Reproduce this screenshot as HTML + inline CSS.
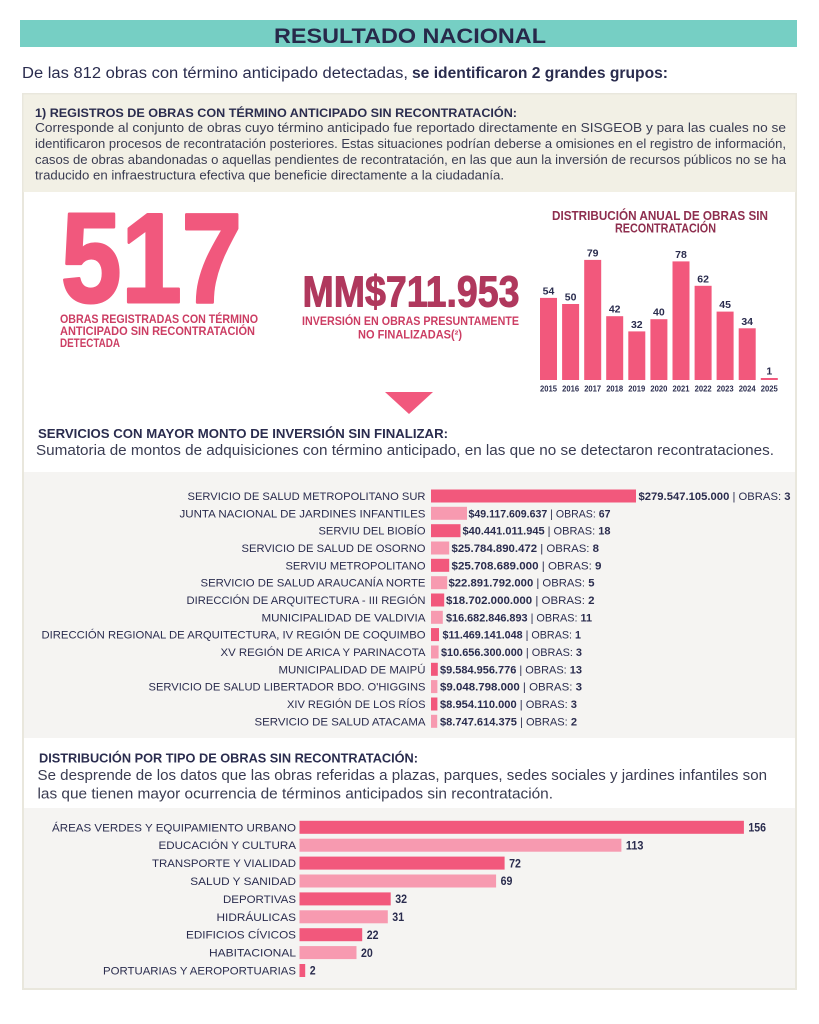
<!DOCTYPE html>
<html>
<head>
<meta charset="utf-8">
<style>
html,body{margin:0;padding:0;background:#ffffff;}
svg{display:block;}
text{font-family:"Liberation Sans",Arial,sans-serif;}
.b{font-weight:bold;}
</style>
</head>
<body>
<svg width="819" height="1024" viewBox="0 0 819 1024" xmlns="http://www.w3.org/2000/svg">
<rect x="0" y="0" width="819" height="1024" fill="#ffffff"/>

<!-- Header -->
<rect x="20" y="20" width="777" height="27" fill="#76cfc4"/>
<text x="274" y="43" class="b" font-size="21" fill="#27294a" textLength="272" lengthAdjust="spacingAndGlyphs">RESULTADO NACIONAL</text>

<text x="22" y="78" font-size="15.5" fill="#2a2c4e" textLength="386" lengthAdjust="spacingAndGlyphs">De las 812 obras con término anticipado detectadas,</text>
<text x="412" y="78" class="b" font-size="15.5" fill="#2a2c4e" textLength="256" lengthAdjust="spacingAndGlyphs">se identificaron 2 grandes grupos:</text>

<!-- Outer box -->
<rect x="22" y="93" width="775" height="897" fill="#e9e7dd"/>
<rect x="23.5" y="94.5" width="772" height="98" fill="#f2f0e5"/>
<rect x="24" y="192" width="771" height="280" fill="#ffffff"/>
<rect x="24" y="472" width="771" height="266" fill="#f5f4f2"/>
<rect x="24" y="738" width="771" height="70" fill="#ffffff"/>
<rect x="24" y="808" width="771" height="180" fill="#f5f4f2"/>

<!-- Box text -->
<text x="35" y="117" class="b" font-size="12" fill="#2a2c4e" textLength="482" lengthAdjust="spacingAndGlyphs">1) REGISTROS DE OBRAS CON TÉRMINO ANTICIPADO SIN RECONTRATACIÓN:</text>
<text x="35" y="132" font-size="12.5" fill="#3a3c52" textLength="751" lengthAdjust="spacingAndGlyphs">Corresponde al conjunto de obras cuyo término anticipado fue reportado directamente en SISGEOB y para las cuales no se</text>
<text x="35" y="148" font-size="12.5" fill="#3a3c52" textLength="751" lengthAdjust="spacingAndGlyphs">identificaron procesos de recontratación posteriores. Estas situaciones podrían deberse a omisiones en el registro de información,</text>
<text x="35" y="164" font-size="12.5" fill="#3a3c52" textLength="751" lengthAdjust="spacingAndGlyphs">casos de obras abandonadas o aquellas pendientes de recontratación, en las que aun la inversión de recursos públicos no se ha</text>
<text x="35" y="179.5" font-size="12.5" fill="#3a3c52" textLength="469" lengthAdjust="spacingAndGlyphs">traducido en infraestructura efectiva que beneficie directamente a la ciudadanía.</text>

<!-- 517 -->
<text x="61" y="302" class="b" font-size="127" fill="#f1587d" stroke="#f1587d" stroke-width="3" stroke-linejoin="round" textLength="181" lengthAdjust="spacingAndGlyphs">517</text>
<text x="60" y="323" class="b" font-size="11.5" fill="#cc3d63" textLength="198" lengthAdjust="spacingAndGlyphs">OBRAS REGISTRADAS CON TÉRMINO</text>
<text x="60" y="335" class="b" font-size="11.5" fill="#cc3d63" textLength="195" lengthAdjust="spacingAndGlyphs">ANTICIPADO SIN RECONTRATACIÓN</text>
<text x="60" y="347" class="b" font-size="11.5" fill="#cc3d63" textLength="60" lengthAdjust="spacingAndGlyphs">DETECTADA</text>

<!-- MM$ -->
<text x="302.5" y="306.5" class="b" font-size="43.5" fill="#b0385d" stroke="#b0385d" stroke-width="1" stroke-linejoin="round" textLength="217" lengthAdjust="spacingAndGlyphs">MM$711.953</text>
<text x="302" y="325" class="b" font-size="11.5" fill="#cc3d63" textLength="217" lengthAdjust="spacingAndGlyphs">INVERSIÓN EN OBRAS PRESUNTAMENTE</text>
<text x="358" y="338.5" class="b" font-size="11.5" fill="#cc3d63" textLength="104" lengthAdjust="spacingAndGlyphs">NO FINALIZADAS(²)</text>

<!-- triangle -->
<polygon points="385,392 433,392 409,414" fill="#f1587d"/>

<!-- Annual chart -->
<text x="552" y="220" class="b" font-size="13" fill="#8e2e4e" textLength="216" lengthAdjust="spacingAndGlyphs">DISTRIBUCIÓN ANUAL DE OBRAS SIN</text>
<text x="615" y="232.5" class="b" font-size="13" fill="#8e2e4e" textLength="101" lengthAdjust="spacingAndGlyphs">RECONTRATACIÓN</text>

<g fill="#f2587c">
<rect x="540" y="297.9" width="17" height="82.1"/>
<rect x="562.1" y="304" width="17" height="76"/>
<rect x="584.2" y="259.9" width="17" height="120.1"/>
<rect x="606.2" y="316.2" width="17" height="63.8"/>
<rect x="628.3" y="331.4" width="17" height="48.6"/>
<rect x="650.4" y="319.2" width="17" height="60.8"/>
<rect x="672.5" y="261.4" width="17" height="118.6"/>
<rect x="694.6" y="285.8" width="17" height="94.2"/>
<rect x="716.6" y="311.6" width="17" height="68.4"/>
<rect x="738.7" y="328.3" width="17" height="51.7"/>
<rect x="760.8" y="378" width="17" height="2"/>
</g>
<g class="b" font-size="10.5" fill="#2a2c4e" text-anchor="middle" font-weight="bold">
<text x="548.5" y="294.4">54</text>
<text x="570.6" y="300.5">50</text>
<text x="592.7" y="256.4">79</text>
<text x="614.7" y="312.7">42</text>
<text x="636.8" y="327.9">32</text>
<text x="658.9" y="315.7">40</text>
<text x="681" y="257.9">78</text>
<text x="703.1" y="282.3">62</text>
<text x="725.1" y="308.1">45</text>
<text x="747.2" y="324.8">34</text>
<text x="769.3" y="374.5">1</text>
</g>
<g font-size="8.5" fill="#2a2c4e" font-weight="bold">
<text x="540" y="391.5" textLength="17" lengthAdjust="spacingAndGlyphs">2015</text>
<text x="562.1" y="391.5" textLength="17" lengthAdjust="spacingAndGlyphs">2016</text>
<text x="584.2" y="391.5" textLength="17" lengthAdjust="spacingAndGlyphs">2017</text>
<text x="606.2" y="391.5" textLength="17" lengthAdjust="spacingAndGlyphs">2018</text>
<text x="628.3" y="391.5" textLength="17" lengthAdjust="spacingAndGlyphs">2019</text>
<text x="650.4" y="391.5" textLength="17" lengthAdjust="spacingAndGlyphs">2020</text>
<text x="672.5" y="391.5" textLength="17" lengthAdjust="spacingAndGlyphs">2021</text>
<text x="694.6" y="391.5" textLength="17" lengthAdjust="spacingAndGlyphs">2022</text>
<text x="716.6" y="391.5" textLength="17" lengthAdjust="spacingAndGlyphs">2023</text>
<text x="738.7" y="391.5" textLength="17" lengthAdjust="spacingAndGlyphs">2024</text>
<text x="760.8" y="391.5" textLength="17" lengthAdjust="spacingAndGlyphs">2025</text>
</g>

<!-- Services section -->
<text x="38" y="438" class="b" font-size="13" fill="#2a2c4e" textLength="410" lengthAdjust="spacingAndGlyphs">SERVICIOS CON MAYOR MONTO DE INVERSIÓN SIN FINALIZAR:</text>
<text x="36" y="455" font-size="14.5" fill="#3a3c52" textLength="738" lengthAdjust="spacingAndGlyphs">Sumatoria de montos de adquisiciones con término anticipado, en las que no se detectaron recontrataciones.</text>

<g font-size="11" fill="#2a2c4e">
<text x="187.5" y="500" textLength="238" lengthAdjust="spacingAndGlyphs">SERVICIO DE SALUD METROPOLITANO SUR</text>
<text x="179.5" y="517.3" textLength="246" lengthAdjust="spacingAndGlyphs">JUNTA NACIONAL DE JARDINES INFANTILES</text>
<text x="318.5" y="534.7" textLength="107" lengthAdjust="spacingAndGlyphs">SERVIU DEL BIOBÍO</text>
<text x="241.5" y="552" textLength="184" lengthAdjust="spacingAndGlyphs">SERVICIO DE SALUD DE OSORNO</text>
<text x="285.5" y="569.3" textLength="140" lengthAdjust="spacingAndGlyphs">SERVIU METROPOLITANO</text>
<text x="200.5" y="586.7" textLength="225" lengthAdjust="spacingAndGlyphs">SERVICIO DE SALUD ARAUCANÍA NORTE</text>
<text x="186.5" y="604" textLength="239" lengthAdjust="spacingAndGlyphs">DIRECCIÓN DE ARQUITECTURA - III REGIÓN</text>
<text x="261.5" y="621.3" textLength="164" lengthAdjust="spacingAndGlyphs">MUNICIPALIDAD DE VALDIVIA</text>
<text x="41.5" y="638.6" textLength="384" lengthAdjust="spacingAndGlyphs">DIRECCIÓN REGIONAL DE ARQUITECTURA, IV REGIÓN DE COQUIMBO</text>
<text x="220.5" y="656" textLength="205" lengthAdjust="spacingAndGlyphs">XV REGIÓN DE ARICA Y PARINACOTA</text>
<text x="278.5" y="673.3" textLength="147" lengthAdjust="spacingAndGlyphs">MUNICIPALIDAD DE MAIPÚ</text>
<text x="148.5" y="690.6" textLength="277" lengthAdjust="spacingAndGlyphs">SERVICIO DE SALUD LIBERTADOR BDO. O'HIGGINS</text>
<text x="287" y="708" textLength="138.5" lengthAdjust="spacingAndGlyphs">XIV REGIÓN DE LOS RÍOS</text>
<text x="254.5" y="725.3" textLength="171" lengthAdjust="spacingAndGlyphs">SERVICIO DE SALUD ATACAMA</text>
</g>

<g>
<rect x="431" y="489.5" width="205" height="13" fill="#f2587c"/>
<rect x="431" y="506.8" width="36" height="13" fill="#f79ab0"/>
<rect x="431" y="524.2" width="29.5" height="13" fill="#f2587c"/>
<rect x="431" y="541.5" width="18.2" height="13" fill="#f79ab0"/>
<rect x="431" y="558.8" width="18.2" height="13" fill="#f2587c"/>
<rect x="431" y="576.2" width="16.2" height="13" fill="#f79ab0"/>
<rect x="431" y="593.5" width="13.2" height="13" fill="#f2587c"/>
<rect x="431" y="610.8" width="11.8" height="13" fill="#f79ab0"/>
<rect x="431" y="628.1" width="8" height="13" fill="#f2587c"/>
<rect x="431" y="645.5" width="7.6" height="13" fill="#f79ab0"/>
<rect x="431" y="662.8" width="6.8" height="13" fill="#f2587c"/>
<rect x="431" y="680.1" width="6.4" height="13" fill="#f79ab0"/>
<rect x="431" y="697.5" width="6.4" height="13" fill="#f2587c"/>
<rect x="431" y="714.8" width="6.2" height="13" fill="#f79ab0"/>
</g>

<g font-size="11" fill="#2a2c4e">
<text x="638.5" y="500" textLength="152" lengthAdjust="spacingAndGlyphs"><tspan font-weight="bold">$279.547.105.000</tspan> | OBRAS: <tspan font-weight="bold">3</tspan></text>
<text x="468.5" y="517.3" textLength="142" lengthAdjust="spacingAndGlyphs"><tspan font-weight="bold">$49.117.609.637</tspan> | OBRAS: <tspan font-weight="bold">67</tspan></text>
<text x="462.5" y="534.7" textLength="148" lengthAdjust="spacingAndGlyphs"><tspan font-weight="bold">$40.441.011.945</tspan> | OBRAS: <tspan font-weight="bold">18</tspan></text>
<text x="451.5" y="552" textLength="147.5" lengthAdjust="spacingAndGlyphs"><tspan font-weight="bold">$25.784.890.472</tspan> | OBRAS: <tspan font-weight="bold">8</tspan></text>
<text x="451.5" y="569.3" textLength="150" lengthAdjust="spacingAndGlyphs"><tspan font-weight="bold">$25.708.689.000</tspan> | OBRAS: <tspan font-weight="bold">9</tspan></text>
<text x="448.5" y="586.7" textLength="146" lengthAdjust="spacingAndGlyphs"><tspan font-weight="bold">$22.891.792.000</tspan> | OBRAS: <tspan font-weight="bold">5</tspan></text>
<text x="446" y="604" textLength="148.5" lengthAdjust="spacingAndGlyphs"><tspan font-weight="bold">$18.702.000.000</tspan> | OBRAS: <tspan font-weight="bold">2</tspan></text>
<text x="446" y="621.3" textLength="146" lengthAdjust="spacingAndGlyphs"><tspan font-weight="bold">$16.682.846.893</tspan> | OBRAS: <tspan font-weight="bold">11</tspan></text>
<text x="442.5" y="638.6" textLength="138.5" lengthAdjust="spacingAndGlyphs"><tspan font-weight="bold">$11.469.141.048</tspan> | OBRAS: <tspan font-weight="bold">1</tspan></text>
<text x="441" y="656" textLength="141" lengthAdjust="spacingAndGlyphs"><tspan font-weight="bold">$10.656.300.000</tspan> | OBRAS: <tspan font-weight="bold">3</tspan></text>
<text x="440" y="673.3" textLength="142" lengthAdjust="spacingAndGlyphs"><tspan font-weight="bold">$9.584.956.776</tspan> | OBRAS: <tspan font-weight="bold">13</tspan></text>
<text x="440" y="690.6" textLength="142" lengthAdjust="spacingAndGlyphs"><tspan font-weight="bold">$9.048.798.000</tspan> | OBRAS: <tspan font-weight="bold">3</tspan></text>
<text x="440" y="708" textLength="137" lengthAdjust="spacingAndGlyphs"><tspan font-weight="bold">$8.954.110.000</tspan> | OBRAS: <tspan font-weight="bold">3</tspan></text>
<text x="440" y="725.3" textLength="137" lengthAdjust="spacingAndGlyphs"><tspan font-weight="bold">$8.747.614.375</tspan> | OBRAS: <tspan font-weight="bold">2</tspan></text>
</g>

<!-- Distribution section -->
<text x="39" y="762.5" class="b" font-size="13" fill="#2a2c4e" textLength="379" lengthAdjust="spacingAndGlyphs">DISTRIBUCIÓN POR TIPO DE OBRAS SIN RECONTRATACIÓN:</text>
<text x="37.5" y="780" font-size="14.5" fill="#3a3c52" textLength="729.5" lengthAdjust="spacingAndGlyphs">Se desprende de los datos que las obras referidas a plazas, parques, sedes sociales y jardines infantiles son</text>
<text x="37.5" y="798.3" font-size="14.5" fill="#3a3c52" textLength="515.5" lengthAdjust="spacingAndGlyphs">las que tienen mayor ocurrencia de términos anticipados sin recontratación.</text>

<g font-size="11" fill="#2a2c4e">
<text x="52" y="831.3" textLength="244" lengthAdjust="spacingAndGlyphs">ÁREAS VERDES Y EQUIPAMIENTO URBANO</text>
<text x="158.5" y="849.2" textLength="137.5" lengthAdjust="spacingAndGlyphs">EDUCACIÓN Y CULTURA</text>
<text x="152" y="867.1" textLength="144" lengthAdjust="spacingAndGlyphs">TRANSPORTE Y VIALIDAD</text>
<text x="190.3" y="885" textLength="105.7" lengthAdjust="spacingAndGlyphs">SALUD Y SANIDAD</text>
<text x="223" y="902.9" textLength="73" lengthAdjust="spacingAndGlyphs">DEPORTIVAS</text>
<text x="216.5" y="920.8" textLength="79.5" lengthAdjust="spacingAndGlyphs">HIDRÁULICAS</text>
<text x="186" y="938.7" textLength="110" lengthAdjust="spacingAndGlyphs">EDIFICIOS CÍVICOS</text>
<text x="209" y="956.6" textLength="87" lengthAdjust="spacingAndGlyphs">HABITACIONAL</text>
<text x="103" y="974.5" textLength="193" lengthAdjust="spacingAndGlyphs">PORTUARIAS Y AEROPORTUARIAS</text>
</g>

<g>
<rect x="299.5" y="820.8" width="444.4" height="13" fill="#f2587c"/>
<rect x="299.5" y="838.7" width="321.9" height="13" fill="#f79ab0"/>
<rect x="299.5" y="856.6" width="205.1" height="13" fill="#f2587c"/>
<rect x="299.5" y="874.5" width="196.6" height="13" fill="#f79ab0"/>
<rect x="299.5" y="892.4" width="91.2" height="13" fill="#f2587c"/>
<rect x="299.5" y="910.3" width="88.3" height="13" fill="#f79ab0"/>
<rect x="299.5" y="928.2" width="62.7" height="13" fill="#f2587c"/>
<rect x="299.5" y="946.1" width="57" height="13" fill="#f79ab0"/>
<rect x="299.5" y="964" width="5.7" height="13" fill="#f2587c"/>
</g>

<g font-size="11.5" font-weight="bold" fill="#2a2c4e">
<text x="748.4" y="831.5" textLength="17.6" lengthAdjust="spacingAndGlyphs">156</text>
<text x="625.9" y="849.4" textLength="17.6" lengthAdjust="spacingAndGlyphs">113</text>
<text x="509.1" y="867.3" textLength="11.8" lengthAdjust="spacingAndGlyphs">72</text>
<text x="500.6" y="885.2" textLength="11.8" lengthAdjust="spacingAndGlyphs">69</text>
<text x="395.2" y="903.1" textLength="11.8" lengthAdjust="spacingAndGlyphs">32</text>
<text x="392.3" y="921" textLength="11.8" lengthAdjust="spacingAndGlyphs">31</text>
<text x="366.7" y="938.9" textLength="11.8" lengthAdjust="spacingAndGlyphs">22</text>
<text x="361" y="956.8" textLength="11.8" lengthAdjust="spacingAndGlyphs">20</text>
<text x="309.7" y="974.7" textLength="5.9" lengthAdjust="spacingAndGlyphs">2</text>
</g>
</svg>
</body>
</html>
